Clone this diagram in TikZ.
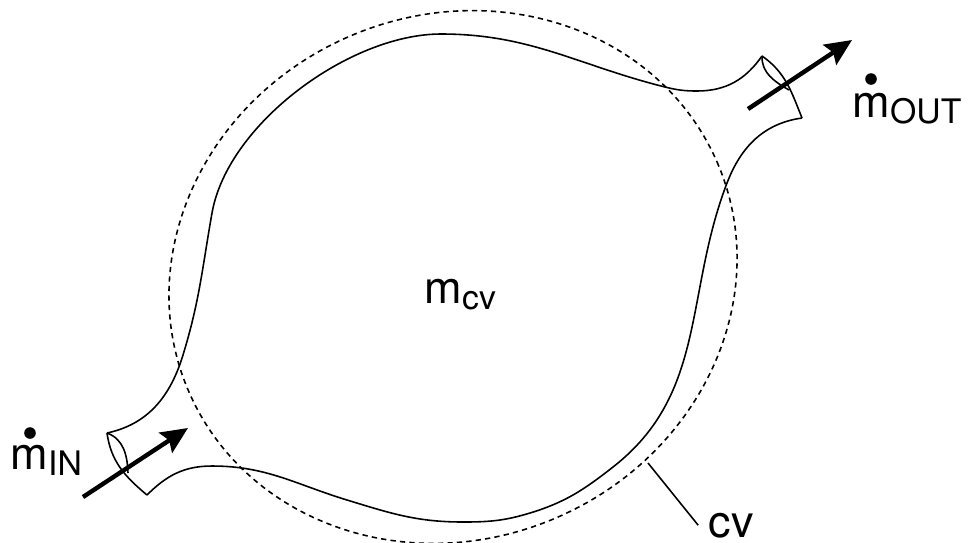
\documentclass[tikz,border=0pt]{standalone}
\usepackage{fontspec}
\setmainfont{TeX Gyre Heros}
\usetikzlibrary{arrows.meta}
\newcommand{\lowsub}[1]{\raisebox{-1.8pt}{\fontsize{9.6}{11}\selectfont #1}}

\begin{document}
\begin{tikzpicture}[x=0.01cm,y=-0.01cm,
  wall/.style={black,line width=0.45pt},
  cvline/.style={black,line width=0.45pt,dash pattern=on 1.5pt off 1.2pt},
  flow/.style={black,line width=1.25pt,-{Stealth[length=7.6pt,width=6.8pt,inset=1.2pt]}}]
\tikzstyle{every node}+=[inner sep=0pt,anchor=base west,font=\fontsize{12.8}{15}\selectfont]
\useasboundingbox (0,0) rectangle (974,542);
\draw [cvline,rotate around={23.6:(453,277)}] (453,277) ellipse [x radius=288,y radius=262];
\draw [wall] (107,433) to[out=12,in=-107] (183,355) to[out=73,in=-100] (212,213)
  to[out=80,in=180,looseness=0.8] (441,34) to[out=0,in=166] (665,87)
  to[out=-14,in=180] (697,91) to[out=0,in=-125] (762,56);
\draw [wall] (802,118) to[out=188,in=69] (727,183) to[out=-111,in=38] (613,467)
  to[out=-142,in=17] (530,513) to[out=-163,in=0] (463,522)
  to[out=180,in=-17] (347,500) to[out=163,in=0] (212,466) to[out=180,in=45] (147,495);
\draw [wall] (762,56) to[out=-35,in=112] (802,118);
\draw [wall] (762,56) to[out=-92,in=150] (789,90);
\draw [wall] (107,433) to[out=-82,in=140] (147,495);
\draw [wall] (107,433) to[out=-20,in=92] (128,473);
\coordinate (inTail) at (83,497);
\coordinate (inTip) at (188,428);
\coordinate (outTail) at (748,109);
\coordinate (outTip) at (852,40);
\draw [flow] (inTail) -- (inTip);
\draw [flow] (outTail) -- (outTip);
\node (mIn) at (10,469) {m\lowsub{IN}};
\fill (30,433) circle (5.8);
\node (mOut) at (852,117) {m\lowsub{OUT}};
\fill (871,79) circle (5.8);
\node (mCv) at (424,303) {m\lowsub{cv}};
\node (cvLab) at (708,537) {cv};
\coordinate (cvPt) at (648,463);
\draw [wall] (cvPt) -- ([xshift=-2.8pt]cvLab.west);
\end{tikzpicture}
\end{document}
